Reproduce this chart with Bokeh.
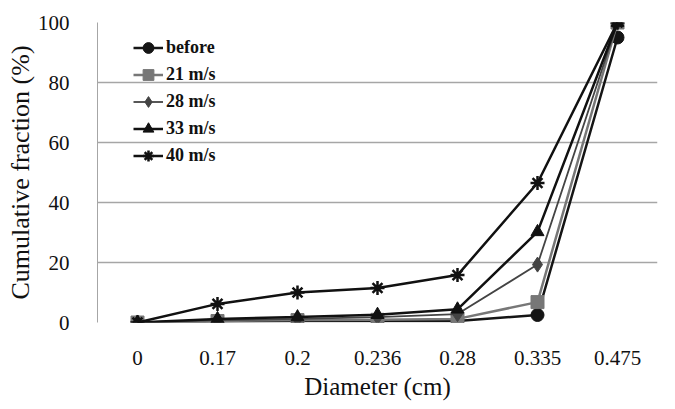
from bokeh.plotting import figure
from bokeh.models import FactorRange, Range1d, Legend, LegendItem, FixedTicker
from bokeh.embed import file_html
from bokeh.resources import INLINE

# Particle-size cumulative distributions
diameters = ["0", "0.17", "0.2", "0.236", "0.28", "0.335", "0.475"]
before = [0, 0.3, 0.5, 0.5, 0.5, 2.5, 95]
speed_21 = [0, 0.5, 0.8, 0.9, 1.2, 6.8, 100]
speed_28 = [0, 0.8, 1.2, 1.8, 2.8, 19.3, 100]
speed_33 = [0, 1.2, 1.8, 2.6, 4.4, 30.2, 100]
speed_40 = [0, 6.2, 10.0, 11.5, 15.8, 46.5, 100]
series_names = ["before", "21 m/s", "28 m/s", "33 m/s", "40 m/s"]
y_ticks = [0, 20, 40, 60, 80, 100]

FONT = "Liberation Serif"

p = figure(
    width=675, height=409,
    x_range=FactorRange(*diameters, range_padding=0),
    y_range=Range1d(0, 100),
    output_backend="svg", toolbar_location=None,
    min_border_left=97, min_border_right=18,
    min_border_top=22, min_border_bottom=87,
)
p.outline_line_color = None
p.background_fill_color = "white"
p.border_fill_color = "white"

# y axis
p.yaxis.ticker = FixedTicker(ticks=y_ticks)
p.yaxis.axis_line_color = "#a6a6a6"
p.yaxis.major_tick_line_color = None
p.yaxis.minor_tick_line_color = None
p.yaxis.major_label_standoff = 22
p.yaxis.major_label_text_font = FONT
p.yaxis.major_label_text_font_size = "21px"
p.yaxis.major_label_text_color = "#111111"
p.yaxis.axis_label = "Cumulative fraction (%)"
p.yaxis.axis_label_text_font = FONT
p.yaxis.axis_label_text_font_size = "26px"
p.yaxis.axis_label_text_font_style = "normal"
p.yaxis.axis_label_text_color = "#111111"
p.yaxis.axis_label_standoff = 0

# x axis
p.xaxis.axis_line_color = None
p.xaxis.major_tick_line_color = None
p.xaxis.minor_tick_line_color = None
p.xaxis.major_label_standoff = 22
p.xaxis.major_label_text_font = FONT
p.xaxis.major_label_text_font_size = "21px"
p.xaxis.major_label_text_color = "#111111"
p.xaxis.axis_label = "Diameter (cm)"
p.xaxis.axis_label_text_font = FONT
p.xaxis.axis_label_text_font_size = "25px"
p.xaxis.axis_label_text_font_style = "normal"
p.xaxis.axis_label_text_color = "#111111"
p.xaxis.axis_label_standoff = 5

p.xgrid.grid_line_color = None
p.ygrid.grid_line_color = "#a6a6a6"
p.ygrid.grid_line_width = 1.5

styles = [
    (before, "circle", "#151515", 2.5, 13),
    (speed_21, "square", "#777777", 2.5, 13),
    (speed_28, "diamond", "#444444", 1.8, 15),
    (speed_33, "triangle", "#111111", 2.5, 13),
    (speed_40, "asterisk", "#111111", 2.5, 14),
]

items = []
for name, (vals, marker, color, lw, size) in zip(series_names, styles):
    line = p.line(diameters, vals, line_color=color, line_width=lw)
    if marker == "asterisk":
        pts = p.scatter(diameters, vals, marker=marker, size=size,
                        line_color=color, line_width=2.5)
    else:
        pts = p.scatter(diameters, vals, marker=marker, size=size,
                        fill_color=color, line_color=color)
    items.append(LegendItem(label=name, renderers=[line, pts]))

legend = Legend(
    items=items, location=(36, 153),
    background_fill_alpha=0, border_line_color=None,
    label_text_font=FONT, label_text_font_size="18px",
    label_text_font_style="bold", label_text_color="#111111",
    glyph_width=30, glyph_height=27, label_standoff=3,
    spacing=0, padding=0, margin=0,
)
p.add_layout(legend)

open("out.html", "w").write(file_html(p, INLINE))
